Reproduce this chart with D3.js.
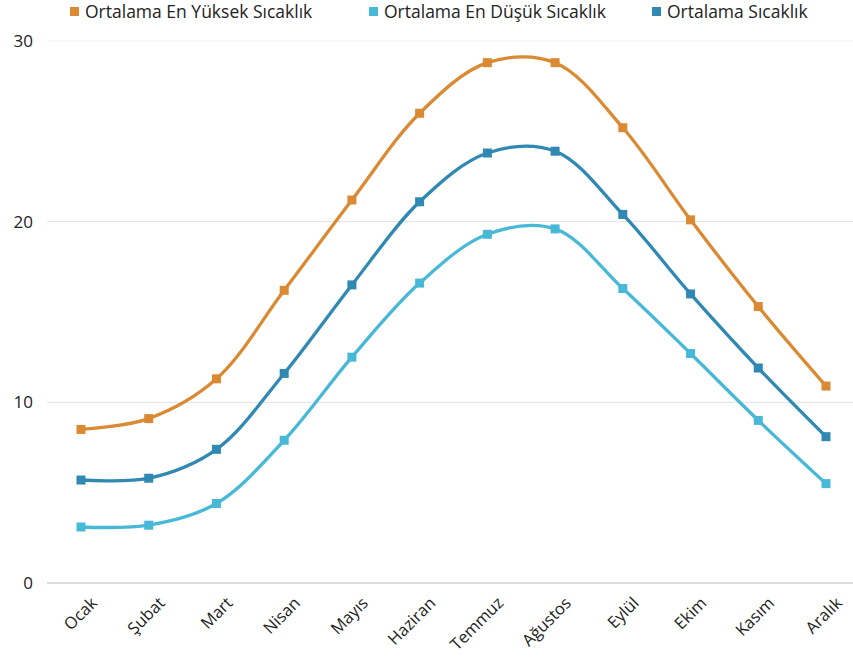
<!DOCTYPE html>
<html>
<head>
<meta charset="utf-8">
<script src="https://cdn.jsdelivr.net/npm/d3@7"></script>
<style>
  html, body { margin: 0; padding: 0; background: #fff; }
  svg { display: block; font-family: "Open Sans", sans-serif; }
</style>
</head>
<body>
<svg id="chart" width="853" height="664"></svg>
<script>
// Aylık ortalama sıcaklıklar (°C)
const months = ["Ocak", "Şubat", "Mart", "Nisan", "Mayıs", "Haziran", "Temmuz", "Ağustos", "Eylül", "Ekim", "Kasım", "Aralık"];
const maxTemps = [8.5, 9.1, 11.3, 16.2, 21.2, 26.0, 28.8, 28.8, 25.2, 20.1, 15.3, 10.9];
const minTemps = [3.1, 3.2, 4.4, 7.9, 12.5, 16.6, 19.3, 19.6, 16.3, 12.7, 9.0, 5.5];
const avgTemps = [5.7, 5.8, 7.4, 11.6, 16.5, 21.1, 23.8, 23.9, 20.4, 16.0, 11.9, 8.1];
const yTicks = [0, 10, 20, 30];
const seriesNames = ["Ortalama En Yüksek Sıcaklık", "Ortalama En Düşük Sıcaklık", "Ortalama Sıcaklık"];

const series = [
  { name: seriesNames[0], values: maxTemps, color: "#d98a33" },
  { name: seriesNames[1], values: minTemps, color: "#47b9d6" },
  { name: seriesNames[2], values: avgTemps, color: "#2f89b2" }
];

const svg = d3.select("#chart");

const x = d3.scalePoint().domain(months).range([81, 826]);
const y = d3.scaleLinear().domain([0, 30]).range([583, 41]);

// Yatay ızgara çizgileri
svg.append("g")
  .selectAll("line")
  .data(yTicks)
  .join("line")
  .attr("x1", 47)
  .attr("x2", 853)
  .attr("y1", d => y(d))
  .attr("y2", d => y(d))
  .attr("stroke", d => d === 0 ? "#cfcfcf" : (d === 30 ? "#f0f0f0" : "#e2e2e2"))
  .attr("stroke-width", d => d === 0 ? 1.5 : 1);

// Y ekseni etiketleri
svg.append("g")
  .selectAll("text")
  .data(yTicks)
  .join("text")
  .attr("x", 33)
  .attr("y", d => y(d))
  .attr("dy", "0.35em")
  .attr("text-anchor", "end")
  .attr("font-size", 17)
  .attr("fill", "#222")
  .text(d => d);

// X ekseni etiketleri (45° eğik)
svg.append("g")
  .selectAll("text")
  .data(months)
  .join("text")
  .attr("transform", d => `translate(${x(d) + 13},${600}) rotate(-45)`)
  .attr("text-anchor", "end")
  .attr("dy", "0.35em")
  .attr("font-size", 16.5)
  .attr("fill", "#222")
  .text(d => d);

// Eğriler
const line = d3.line()
  .x((d, i) => x(months[i]))
  .y(d => y(d))
  .curve(d3.curveCatmullRom.alpha(0.5));

const g = svg.append("g");
series.forEach(s => {
  g.append("path")
    .attr("d", line(s.values))
    .attr("fill", "none")
    .attr("stroke", s.color)
    .attr("stroke-width", 3.3)
    .attr("stroke-linejoin", "round");
  g.append("g")
    .selectAll("rect")
    .data(s.values)
    .join("rect")
    .attr("x", (d, i) => x(months[i]) - 4.5)
    .attr("y", d => y(d) - 4.5)
    .attr("width", 9)
    .attr("height", 9)
    .attr("fill", s.color);
});

// Lejant
const legendX = [70, 369, 652];
const legend = svg.append("g");
series.forEach((s, i) => {
  legend.append("rect")
    .attr("x", legendX[i])
    .attr("y", 7)
    .attr("width", 9)
    .attr("height", 9)
    .attr("fill", s.color);
  legend.append("text")
    .attr("x", legendX[i] + 15)
    .attr("y", 12)
    .attr("dy", "0.35em")
    .attr("font-size", 17.5)
    .attr("fill", "#222")
    .text(s.name);
});
</script>
</body>
</html>
